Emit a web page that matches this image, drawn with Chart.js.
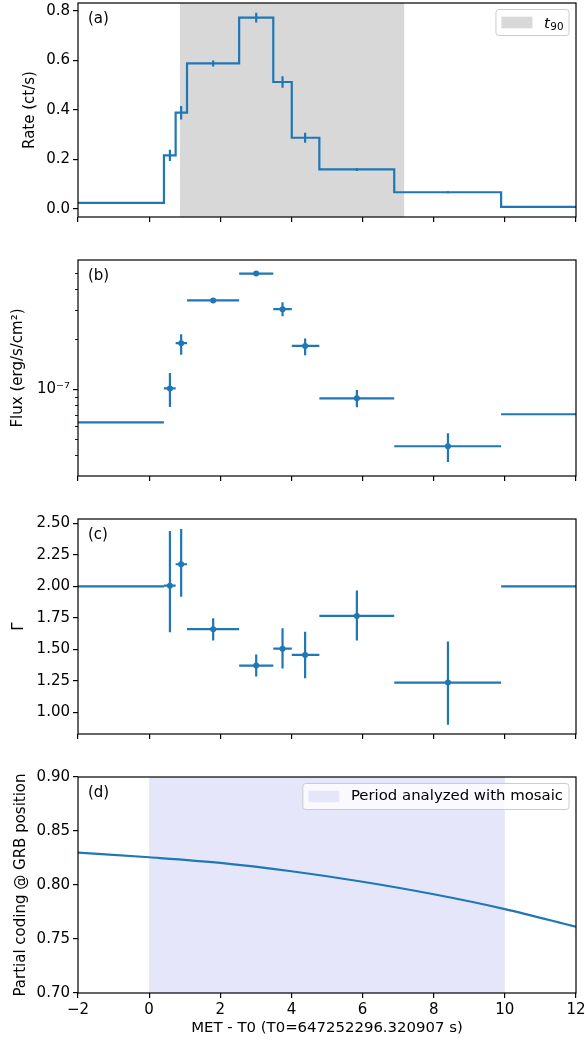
<!DOCTYPE html>
<html>
<head>
<meta charset="utf-8">
<script src="https://cdn.jsdelivr.net/npm/chart.js@4.4.1/dist/chart.umd.min.js"></script>
<style>
  body { margin: 0; background: #fff; }
  #wrap { position: relative; width: 585px; height: 1042px; }
  canvas { position: absolute; left: 0; }
</style>
</head>
<body>
<div id="wrap">
  <canvas id="panel-a" width="585" height="240" style="top:0px"></canvas>
  <canvas id="panel-b" width="585" height="260" style="top:240px"></canvas>
  <canvas id="panel-c" width="585" height="260" style="top:500px"></canvas>
  <canvas id="panel-d" width="585" height="282" style="top:760px"></canvas>
</div>
<script>
//------------------------ DATA ----------------------------

// time bins (s since T0), first and last bins have no error bars
const binEdges = [-2, 0.416, 0.745, 1.065, 2.53, 3.49, 4.01, 4.785, 6.89, 9.895, 12];
const binMid = [0.584, 0.90, 1.80, 3.01, 3.75, 4.385, 5.84, 8.40];

// (a) count rate per bin + errors of the inner bins
const rate = [0.025, 0.217, 0.389, 0.588, 0.773, 0.513, 0.288, 0.160, 0.068, 0.009];
const rateErr = [0.023, 0.027, 0.012, 0.02, 0.023, 0.02, 0.006, 0.004];
const t90 = [0.865, 7.17];

// (b) flux per bin, lower / upper limits of the inner bins
const flux = [6.3e-8, 1.01e-7, 1.89e-7, 3.42e-7, 4.96e-7, 3.03e-7, 1.82e-7, 8.81e-8, 4.53e-8, 7.06e-8];
const fluxLo = [7.8e-8, 1.61e-7, 3.33e-7, 4.86e-7, 2.75e-7, 1.60e-7, 7.77e-8, 3.64e-8];
const fluxHi = [1.25e-7, 2.14e-7, 3.51e-7, 5.06e-7, 3.33e-7, 2.02e-7, 9.87e-8, 5.42e-8];

// (c) photon index
const gamma = [2.0, 2.005, 2.175, 1.660, 1.372, 1.506, 1.456, 1.765, 1.237, 2.0];
const gammaLo = [1.636, 1.918, 1.570, 1.285, 1.348, 1.272, 1.570, 0.902];
const gammaHi = [2.439, 2.455, 1.747, 1.459, 1.668, 1.639, 1.966, 1.562];

// (d) partial coding fraction
const codingTime = [-2, 0, 2, 4, 6, 8, 10, 12];
const coding = [0.830, 0.8257, 0.8205, 0.8127, 0.803, 0.7914, 0.7777, 0.7613];
const mosaicPeriod = [0, 10];

// tick labels
const xTicks = [-2, 0, 2, 4, 6, 8, 10, 12];
const rateTicks = [0.0, 0.2, 0.4, 0.6, 0.8];
const fluxTicks = [1e-7];
const fluxMinorTicks = [4e-8, 5e-8, 6e-8, 7e-8, 8e-8, 9e-8, 2e-7, 3e-7, 4e-7, 5e-7];
const gammaTicks = [1.0, 1.25, 1.5, 1.75, 2.0, 2.25, 2.5];
const codingTicks = [0.70, 0.75, 0.80, 0.85, 0.90];

//------------------------ HELPERS ----------------------------

const BLUE = "#1f77b4";
const FONT = "'DejaVu Sans', sans-serif";
const FS = 15;

Chart.defaults.font.family = FONT;
Chart.defaults.font.size = FS;
Chart.defaults.color = "#000";

// horizontal segments lo..hi at y, separated by gaps
function hSegs(lo, hi, y) {
  const out = [];
  y.forEach((v, i) => {
    out.push({ x: lo[i], y: v }, { x: hi[i], y: v }, { x: hi[i], y: null });
  });
  return out;
}

// vertical segments at x from lo to hi
function vSegs(x, lo, hi) {
  const out = [];
  x.forEach((v, i) => {
    out.push({ x: v, y: lo[i] }, { x: v, y: hi[i] }, { x: v, y: null });
  });
  return out;
}

function lineSet(data, extra) {
  return Object.assign({
    data: data,
    borderColor: BLUE,
    backgroundColor: BLUE,
    borderWidth: 2.2,
    pointRadius: 0,
    fill: false,
    spanGaps: false,
  }, extra || {});
}

function dotSet(xs, ys) {
  return {
    data: xs.map((v, i) => ({ x: v, y: ys[i] })),
    showLine: false,
    pointRadius: 3,
    pointBackgroundColor: BLUE,
    pointBorderWidth: 0,
    borderColor: BLUE,
  };
}

function fmtX(v) {
  return v < 0 ? "\u2212" + Math.abs(v) : String(v);
}

// bands, frame, minor ticks, panel letter and legend box
const decoPlugin = {
  id: "deco",
  beforeDatasetsDraw(chart, args, opts) {
    const { ctx, chartArea: a, scales } = chart;
    (opts.bands || []).forEach((b) => {
      const x0 = Math.max(a.left, scales.x.getPixelForValue(b.from));
      const x1 = Math.min(a.right, scales.x.getPixelForValue(b.to));
      ctx.save();
      ctx.fillStyle = b.color;
      ctx.fillRect(x0, a.top, x1 - x0, a.bottom - a.top);
      ctx.restore();
    });
  },
  afterDraw(chart, args, opts) {
    const { ctx, chartArea: a, scales } = chart;
    ctx.save();

    // minor ticks on the y axis
    if (opts.minorTicks) {
      ctx.strokeStyle = "#000";
      ctx.lineWidth = 0.9;
      opts.minorTicks.forEach((v) => {
        const y = Math.round(scales.y.getPixelForValue(v)) + 0.5;
        ctx.beginPath();
        ctx.moveTo(a.left - 3, y);
        ctx.lineTo(a.left, y);
        ctx.stroke();
      });
    }

    // frame
    ctx.strokeStyle = "#000";
    ctx.lineWidth = 1.2;
    ctx.strokeRect(a.left, a.top, a.right - a.left, a.bottom - a.top);

    // panel letter
    ctx.fillStyle = "#000";
    ctx.font = FS + "px " + FONT;
    ctx.textBaseline = "middle";
    ctx.textAlign = "left";
    ctx.fillText(opts.label, a.left + 10, a.top + 16.5);

    // legend
    const lg = opts.legend;
    if (lg) {
      const lfs = 14.9;
      const subFont = (lfs * 0.7).toFixed(1) + "px " + FONT;
      let textW;
      if (lg.t90) {
        ctx.font = "italic " + lfs + "px " + FONT;
        const tw = ctx.measureText("t").width;
        ctx.font = subFont;
        textW = tw + ctx.measureText("90").width;
      } else {
        ctx.font = lfs + "px " + FONT;
        textW = ctx.measureText(lg.text).width;
      }
      const h = 26, padL = 5.5, sw = 31, gap = 11.5, padR = 6;
      const w = padL + sw + gap + textW + padR;
      const right = a.right - 7;
      const top = a.top + 6.5;
      const left = right - w;
      const cy = top + h / 2;

      ctx.beginPath();
      ctx.roundRect(left, top, w, h, 3);
      ctx.fillStyle = "rgba(255,255,255,0.8)";
      ctx.fill();
      ctx.strokeStyle = "#cccccc";
      ctx.lineWidth = 1;
      ctx.stroke();

      ctx.fillStyle = lg.color;
      ctx.fillRect(left + padL, cy - 5.8, sw, 11.6);

      ctx.fillStyle = "#000";
      const tx = left + padL + sw + gap;
      if (lg.t90) {
        ctx.textBaseline = "alphabetic";
        ctx.font = "italic " + lfs + "px " + FONT;
        ctx.fillText("t", tx, cy + 5);
        const tw = ctx.measureText("t").width;
        ctx.font = subFont;
        ctx.fillText("90", tx + tw + 0.5, cy + 7.5);
      } else {
        ctx.textBaseline = "middle";
        ctx.fillText(lg.text, tx, cy);
      }
    }
    ctx.restore();
  },
};

function panelOptions(o) {
  const gridOpts = { drawOnChartArea: false, color: "#000", lineWidth: 1.2, tickLength: 5 };
  return {
    responsive: false,
    animation: false,
    devicePixelRatio: 1,
    layout: { padding: { top: o.top, right: 9, left: 0, bottom: 0 } },
    plugins: {
      legend: { display: false },
      tooltip: { enabled: false },
      deco: o.deco,
    },
    scales: {
      x: {
        type: "linear",
        min: -2,
        max: 12,
        afterBuildTicks: (s) => { s.ticks = xTicks.map((v) => ({ value: v })); },
        afterFit: (s) => {
          s.height = o.xHeight;
          s.paddingLeft = 0;
          s.paddingRight = 0;
        },
        grid: gridOpts,
        border: { display: false },
        ticks: { display: !!o.xTitle, padding: 3.5, maxRotation: 0, autoSkip: false, callback: fmtX },
        title: { display: !!o.xTitle, text: o.xTitle || "", font: { size: 14.9 }, padding: { top: 0, bottom: 4.5 } },
      },
      y: {
        type: o.yType || "linear",
        min: o.yMin,
        max: o.yMax,
        afterBuildTicks: (s) => { s.ticks = o.yTicks.map((v) => ({ value: v })); },
        afterFit: (s) => {
          s.width = 78;
          s.paddingTop = 0;
          s.paddingBottom = 0;
        },
        grid: gridOpts,
        border: { display: false },
        ticks: { padding: 3, autoSkip: false, callback: o.yFmt },
        title: { display: true, text: o.yTitle, padding: { top: o.yTitlePad, bottom: 0 } },
      },
    },
  };
}

//------------------------ PANELS ----------------------------

// (a) light curve
const rateSteps = binEdges.slice(0, -1).map((e, i) => ({ x: e, y: rate[i] }));
rateSteps.push({ x: binEdges[binEdges.length - 1], y: rate[rate.length - 1] });
const rateInner = rate.slice(1, -1);

new Chart(document.getElementById("panel-a"), {
  type: "line",
  data: {
    datasets: [
      lineSet(vSegs(binMid, rateInner.map((v, i) => v - rateErr[i]), rateInner.map((v, i) => v + rateErr[i]))),
      lineSet(rateSteps, { stepped: "before" }),
    ],
  },
  options: panelOptions({
    top: 3, xHeight: 23,
    yMin: -0.032, yMax: 0.832, yTicks: rateTicks,
    yFmt: (v) => v.toFixed(1),
    yTitle: "Rate (ct/s)", yTitlePad: 21,
    deco: {
      label: "(a)",
      bands: [{ from: t90[0], to: t90[1], color: "#d8d8d8" }],
      legend: { t90: true, color: "#d8d8d8" },
    },
  }),
  plugins: [decoPlugin],
});

// (b) flux
new Chart(document.getElementById("panel-b"), {
  type: "line",
  data: {
    datasets: [
      dotSet(binMid, flux.slice(1, -1)),
      lineSet(vSegs(binMid, fluxLo, fluxHi)),
      lineSet(hSegs(binEdges.slice(0, -1), binEdges.slice(1), flux)),
    ],
  },
  options: panelOptions({
    top: 20, xHeight: 24,
    yType: "logarithmic", yMin: 3.18e-8, yMax: 5.99e-7, yTicks: fluxTicks,
    yFmt: () => "10\u207B\u2077",
    yTitle: "Flux (erg/s/cm\u00B2)", yTitlePad: 9.5,
    deco: { label: "(b)", minorTicks: fluxMinorTicks },
  }),
  plugins: [decoPlugin],
});

// (c) photon index
new Chart(document.getElementById("panel-c"), {
  type: "line",
  data: {
    datasets: [
      dotSet(binMid, gamma.slice(1, -1)),
      lineSet(vSegs(binMid, gammaLo, gammaHi)),
      lineSet(hSegs(binEdges.slice(0, -1), binEdges.slice(1), gamma)),
    ],
  },
  options: panelOptions({
    top: 19, xHeight: 26,
    yMin: 0.829, yMax: 2.534, yTicks: gammaTicks,
    yFmt: (v) => v.toFixed(2),
    yTitle: "\u0393", yTitlePad: 10,
    deco: { label: "(c)" },
  }),
  plugins: [decoPlugin],
});

// (d) partial coding
new Chart(document.getElementById("panel-d"), {
  type: "line",
  data: {
    datasets: [
      lineSet(codingTime.map((t, i) => ({ x: t, y: coding[i] })), { cubicInterpolationMode: "monotone" }),
    ],
  },
  options: panelOptions({
    top: 17, xHeight: 49,
    yMin: 0.70, yMax: 0.90, yTicks: codingTicks,
    yFmt: (v) => v.toFixed(2),
    yTitle: "Partial coding @ GRB position", yTitlePad: 12,
    xTitle: "MET - T0 (T0=647252296.320907 s)",
    deco: {
      label: "(d)",
      bands: [{ from: mosaicPeriod[0], to: mosaicPeriod[1], color: "#e6e6fa" }],
      legend: { text: "Period analyzed with mosaic", color: "#e6e6fa" },
    },
  }),
  plugins: [decoPlugin],
});
</script>
</body>
</html>
